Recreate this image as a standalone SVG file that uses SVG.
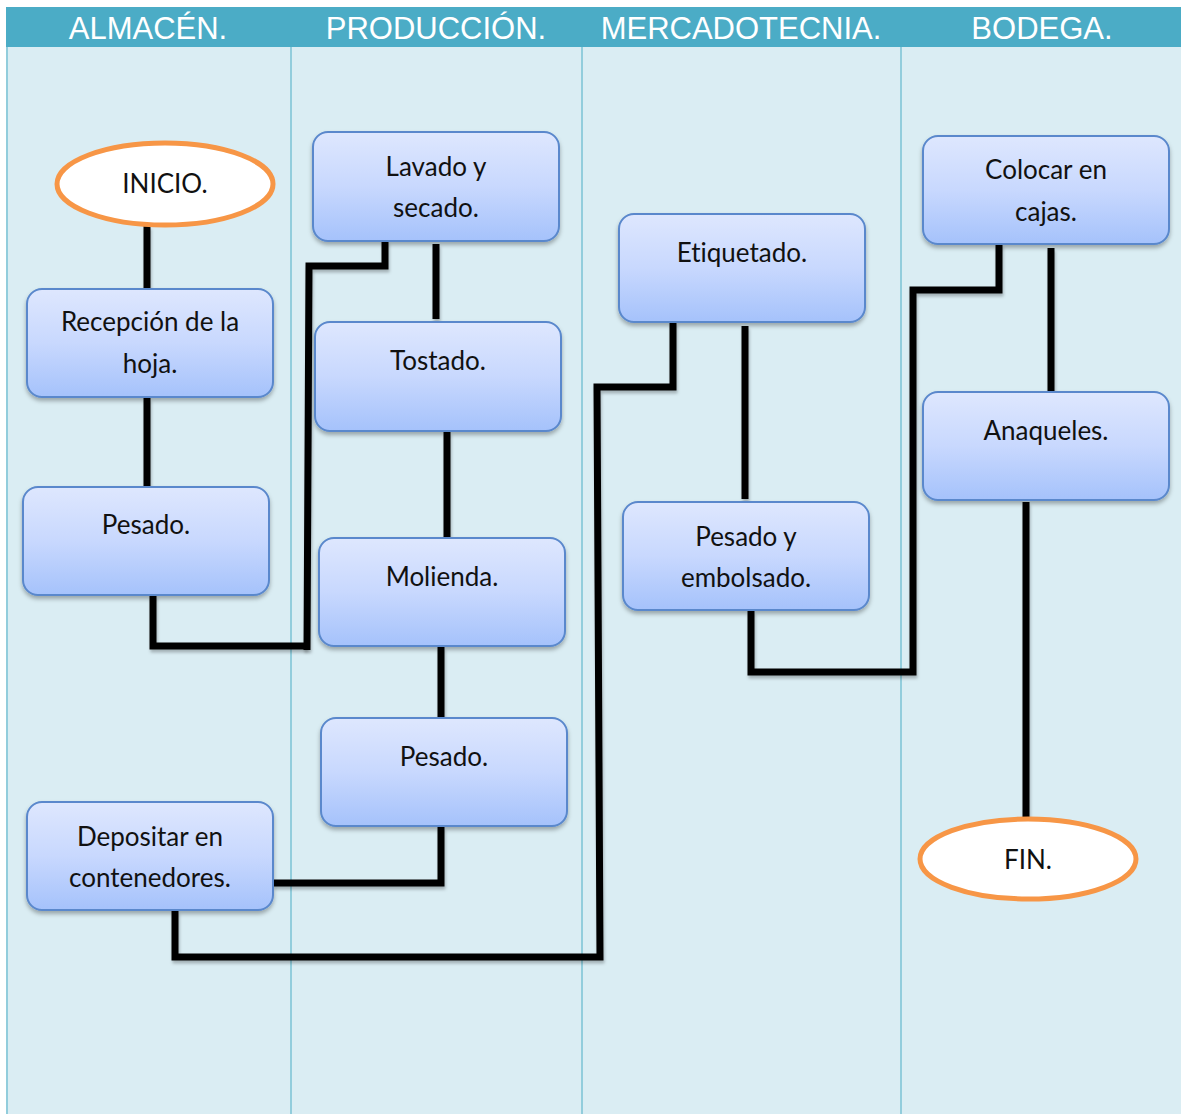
<svg xmlns="http://www.w3.org/2000/svg" width="1181" height="1114" viewBox="0 0 1181 1114">
  <defs>
    <linearGradient id="boxFill" x1="0" y1="0" x2="0" y2="1">
      <stop offset="0" stop-color="#DEE7FE"/>
      <stop offset="0.5" stop-color="#C8D8FE"/>
      <stop offset="1" stop-color="#A5C2FB"/>
    </linearGradient>
    <filter id="shadow" x="-10%" y="-10%" width="120%" height="130%">
      <feDropShadow dx="0" dy="3" stdDeviation="2" flood-color="#000" flood-opacity="0.3"/>
    </filter>
    <filter id="lineShadow" filterUnits="userSpaceOnUse" x="0" y="0" width="1181" height="1114">
      <feDropShadow dx="1" dy="3" stdDeviation="1.5" flood-color="#000" flood-opacity="0.25"/>
    </filter>
  </defs>
  <style>
    .lane { fill: #DAEDF3; }
    .divider { stroke: #92CDDC; stroke-width: 2; }
    .header { fill: #4BACC6; }
    .htext { font-family: "Liberation Sans", Arial, sans-serif; font-size: 31px; fill: #FFFFFF; text-anchor: middle; }
    .box { fill: url(#boxFill); stroke: #5A88CC; stroke-width: 2; filter: url(#shadow); }
    .term { fill: #FFFFFF; stroke: #F79646; stroke-width: 5; }
    .label { font-family: Lato, "Open Sans", sans-serif; font-size: 26px; fill: #111111; text-anchor: middle; font-variant-ligatures: none; }
    .conn { fill: none; stroke: #000000; stroke-width: 7; stroke-linejoin: miter; stroke-linecap: butt; filter: url(#lineShadow); }
  </style>

  <!-- swimlane background and header -->
  <rect x="0" y="0" width="1181" height="1114" fill="#FFFFFF"/>
  <rect class="lane" x="6" y="47" width="1175" height="1067"/>
  <rect class="header" x="6" y="7" width="1175" height="40"/>
  <g id="dividers">
    <line class="divider" x1="7" y1="47" x2="7" y2="1114"/>
    <line class="divider" x1="291" y1="47" x2="291" y2="1114"/>
    <line class="divider" x1="582" y1="47" x2="582" y2="1114"/>
    <line class="divider" x1="901" y1="47" x2="901" y2="1114"/>
  </g>
  <g id="lane-titles">
    <text class="htext" x="148" y="39">ALMACÉN.</text>
    <text class="htext" x="436" y="39">PRODUCCIÓN.</text>
    <text class="htext" x="741" y="39">MERCADOTECNIA.</text>
    <text class="htext" x="1042" y="39">BODEGA.</text>
  </g>

  <!-- connectors -->
  <g id="connectors">
    <line class="conn" x1="147" y1="226" x2="147" y2="289"/>
    <line class="conn" x1="147" y1="398" x2="147" y2="490"/>
    <polyline class="conn" points="153,595 153,646 307,646"/>
    <polyline class="conn" points="307,650 309,266 385,266 385,241"/>
    <line class="conn" x1="436" y1="244" x2="436" y2="319"/>
    <line class="conn" x1="447" y1="432" x2="447" y2="540"/>
    <line class="conn" x1="441" y1="647" x2="441" y2="722"/>
    <polyline class="conn" points="441,827 441,883 273,883"/>
    <polyline class="conn" points="175,911 175,957 600,957 597,387 673,387 673,322"/>
    <line class="conn" x1="745" y1="326" x2="745" y2="499"/>
    <polyline class="conn" points="751,611 751,672 913,672 913,290 999,290 999,244"/>
    <line class="conn" x1="1051" y1="248" x2="1051" y2="396"/>
    <line class="conn" x1="1026" y1="502" x2="1026" y2="818"/>
  </g>

  <!-- nodes -->
  <g id="inicio">
    <ellipse class="term" cx="165" cy="184" rx="108" ry="41"/>
    <text class="label" x="165" y="193">INICIO.</text>
  </g>
  <g id="recepcion">
    <rect class="box" x="27" y="289" width="246" height="108" rx="15"/>
    <text class="label" x="150" y="331">Recepción de la</text>
    <text class="label" x="150" y="373">hoja.</text>
  </g>
  <g id="pesado-almacen">
    <rect class="box" x="23" y="487" width="246" height="108" rx="15"/>
    <text class="label" x="146" y="534">Pesado.</text>
  </g>
  <g id="depositar">
    <rect class="box" x="27" y="802" width="246" height="108" rx="15"/>
    <text class="label" x="150" y="846">Depositar en</text>
    <text class="label" x="150" y="887">contenedores.</text>
  </g>
  <g id="lavado">
    <rect class="box" x="313" y="132" width="246" height="109" rx="15"/>
    <text class="label" x="436" y="176">Lavado y</text>
    <text class="label" x="436" y="217">secado.</text>
  </g>
  <g id="tostado">
    <rect class="box" x="315" y="322" width="246" height="109" rx="15"/>
    <text class="label" x="438" y="370">Tostado.</text>
  </g>
  <g id="molienda">
    <rect class="box" x="319" y="538" width="246" height="108" rx="15"/>
    <text class="label" x="442" y="586">Molienda.</text>
  </g>
  <g id="pesado-produccion">
    <rect class="box" x="321" y="718" width="246" height="108" rx="15"/>
    <text class="label" x="444" y="766">Pesado.</text>
  </g>
  <g id="etiquetado">
    <rect class="box" x="619" y="214" width="246" height="108" rx="15"/>
    <text class="label" x="742" y="262">Etiquetado.</text>
  </g>
  <g id="pesado-embolsado">
    <rect class="box" x="623" y="502" width="246" height="108" rx="15"/>
    <text class="label" x="746" y="546">Pesado y</text>
    <text class="label" x="746" y="587">embolsado.</text>
  </g>
  <g id="colocar">
    <rect class="box" x="923" y="136" width="246" height="108" rx="15"/>
    <text class="label" x="1046" y="179">Colocar en</text>
    <text class="label" x="1046" y="221">cajas.</text>
  </g>
  <g id="anaqueles">
    <rect class="box" x="923" y="392" width="246" height="108" rx="15"/>
    <text class="label" x="1046" y="440">Anaqueles.</text>
  </g>
  <g id="fin">
    <ellipse class="term" cx="1028" cy="859" rx="108" ry="40"/>
    <text class="label" x="1028" y="869">FIN.</text>
  </g>
</svg>
